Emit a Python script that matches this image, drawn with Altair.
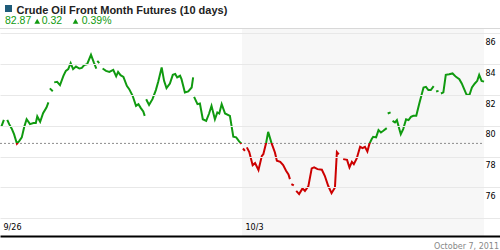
import altair as alt
import pandas as pd

# ---------------- data ----------------
TITLE = "Crude Oil Front Month Futures (10 days)"
LAST_PRICE = "82.87"
CHANGE = "0.32"
CHANGE_PCT = "0.39%"
DATE_TEXT = "October 7, 2011"
REF_PRICE = 78.86

X_TICKS = [0, 5]
X_LABELS = ["9/26", "10/3"]
Y_TICKS = [74, 76, 78, 80, 82, 84, 86]
SHADE_START = [5]
SHADE_END = [10]

# trading days since 9/26 open; None marks a break between sessions
T = [0.03, 0.08, None,
     0.15, 0.19, 0.24, 0.29, 0.35, 0.40, 0.45, 0.50, 0.55, 0.62, 0.69, 0.74, 0.77, 0.83, 0.89, 0.96, 1.00, None,
     1.03, 1.09, None,
     1.12, 1.18, 1.24, 1.31, 1.36, 1.41, 1.46, 1.51, 1.57, 1.64, 1.69, 1.74, 1.80, 1.88, 1.94, 1.99, None,
     2.01, 2.05, None,
     2.12, 2.19, 2.26, 2.34, 2.40, 2.44, 2.49, 2.55, 2.62, 2.67, 2.74, 2.81, 2.86, 2.91, 2.96, 2.99, None,
     3.02, 3.08, 3.15, 3.22, 3.27, 3.34, 3.39, 3.44, 3.51, 3.57, 3.62, 3.66, 3.72, 3.75, 3.82, 3.89, 3.96, 3.99, None,
     4.01, 4.08, 4.13, 4.19, 4.26, 4.32, 4.37, 4.44, 4.49, 4.53, 4.58, 4.65, 4.75, 4.82, 4.88, 4.94, 4.99, None,
     5.02, 5.06, None,
     5.10, 5.15, 5.22, 5.27, 5.34, 5.41, 5.44, 5.50, 5.54, 5.61, 5.68, 5.72, 5.79, 5.85, 5.91, 5.96, 5.99, None,
     6.02, 6.07, None,
     6.12, 6.18, 6.25, 6.30, 6.37, 6.44, 6.49, 6.56, 6.65, 6.71, 6.78, 6.85, 6.92, 6.96, 7.00, None,
     7.09, 7.17, 7.22, 7.27, 7.31, 7.37, 7.44, 7.49, 7.54, 7.59, 7.63, 7.68, 7.71, 7.77, 7.82, 7.87, 7.92, 7.99, None,
     8.01, 8.07, None,
     8.11, 8.16, 8.20, 8.25, 8.28, 8.33, 8.39, 8.44, 8.49, 8.54, 8.60, 8.66, 8.75, 8.80, 8.85, 8.90, 8.96, None,
     9.01, 9.06, None,
     9.11, 9.16, 9.21, 9.28, 9.35, 9.42, 9.49, 9.54, 9.59, 9.64, 9.70, 9.75, 9.81, 9.86, 9.90, 9.95, 10.00]

P = [79.96, 80.39, None,
     80.39, 80.11, 79.83, 79.46, 78.84, 79.03, 79.25, 79.92, 80.43, 80.11, 80.18, 80.18, 80.61, 80.26, 80.82, 81.19, 81.52, None,
     82.43, 82.25, None,
     82.82, 82.86, 82.64, 83.24, 83.57, 83.68, 84.07, 83.68, 83.85, 83.72, 83.76, 83.94, 84.00, 84.61, 84.11, 83.72, None,
     84.22, 84.07, None,
     83.72, 83.57, 83.50, 83.63, 83.21, 83.50, 83.29, 83.18, 82.60, 82.38, 81.95, 81.30, 81.41, 81.15, 80.93, 80.65, None,
     81.73, 81.36, 81.73, 82.32, 82.88, 83.79, 82.92, 82.45, 82.75, 83.31, 83.36, 83.14, 83.25, 83.03, 82.17, 82.23, 82.49, 83.14, None,
     81.88, 81.41, 81.45, 80.43, 80.32, 80.80, 81.30, 80.43, 80.87, 80.80, 81.41, 80.80, 80.65, 79.29, 79.25, 78.99, 78.84, None,
     78.53, 78.38, None,
     78.60, 78.30, 77.45, 77.58, 77.13, 78.05, 78.16, 78.92, 79.61, 78.88, 78.27, 77.73, 77.66, 77.45, 77.08, 76.85, 76.54, None,
     76.22, 76.13, None,
     75.78, 75.57, 75.94, 75.78, 76.07, 77.24, 77.30, 77.19, 77.15, 76.76, 76.11, 75.63, 76.00, 78.30, 78.15, None,
     77.84, 77.79, 77.30, 77.66, 77.51, 77.88, 78.64, 78.55, 78.64, 78.34, 78.81, 79.14, 79.29, 79.25, 79.72, 79.57, 79.68, 79.85, None,
     80.80, 80.87, None,
     80.32, 80.22, 80.37, 79.79, 79.46, 79.79, 80.43, 80.37, 80.58, 80.65, 80.65, 81.41, 82.49, 82.53, 82.32, 82.32, 82.58, None,
     82.23, 82.27, None,
     82.10, 82.17, 83.31, 83.35, 83.40, 83.18, 83.03, 82.75, 82.38, 82.01, 82.01, 82.49, 82.75, 82.92, 83.31, 82.92, 82.87]

# ---------------- style ----------------
GREEN = "#109a10"
RED = "#cc0000"
W, H = 500, 208
XDOM = [0, 10.33]
YDOM = [72.85, 86.35]
FONT = "Liberation Sans"
AXFONT = "DejaVu Sans"

df = pd.DataFrame({"t": T, "p": P, "i": list(range(len(T)))}).astype(float)
vals = [v for v in P if v is not None]
split = (max(vals) - REF_PRICE) / (max(vals) - min(vals))

label_expr = "''"
for v, l in reversed(list(zip(X_TICKS, X_LABELS))):
    label_expr = f"datum.value == {v} ? '{l}' : {label_expr}"

xscale = alt.Scale(domain=XDOM, nice=False, zero=False)
yscale = alt.Scale(domain=YDOM, nice=False, zero=False)

XAX = alt.Axis(
    values=X_TICKS, labelExpr=label_expr, grid=False,
    domain=True, domainColor="#000000", domainWidth=2,
    ticks=False, tickSize=0, labelAlign="left", labelBaseline="alphabetic",
    labelPadding=-7, labelOffset=3, labelFontSize=8, labelFont=AXFONT,
    labelColor="#000000", labelFlush=False, labelOverlap=False, title=None, zindex=1)
YAX = alt.Axis(
    orient="right", values=Y_TICKS,
    labelExpr="datum.value < 75 ? '' : datum.label",
    grid=True, gridColor="#e8e8e8", gridWidth=1, domain=False,
    ticks=False, tickSize=0, labelAlign="left", labelBaseline="alphabetic",
    labelPadding=-15, labelOffset=11, labelFontSize=8, labelFont=AXFONT,
    labelColor="#000000", title=None, zindex=1)

shade = alt.Chart(pd.DataFrame({"t": SHADE_START, "b": SHADE_END})).mark_rect(
    color="#f7f7f7"
).encode(
    x=alt.X("t:Q", scale=xscale, axis=XAX),
    x2="b:Q",
    y=alt.value(0),
    y2=alt.value(H),
)

top_rule = alt.Chart(pd.DataFrame({"k": [0]})).mark_rule(color="#d8d8d8", strokeWidth=1).encode(
    x=alt.value(0), x2=alt.value(W), y=alt.value(0.5)
)

ref = alt.Chart(pd.DataFrame({"t": [X_TICKS[0]], "b": SHADE_END, "p": [REF_PRICE]})).mark_rule(
    color="#8c8c8c", strokeWidth=1, strokeDash=[2, 2]
).encode(
    x=alt.X("t:Q", scale=xscale, axis=XAX),
    x2="b:Q",
    y=alt.Y("p:Q", scale=yscale, axis=YAX),
)

line = alt.Chart(df).mark_line(
    strokeWidth=2,
    invalid="break-paths-show-domains",
    color=alt.Gradient(
        gradient="linear",
        x1=0, x2=0, y1=0, y2=1,
        stops=[
            alt.GradientStop(color=GREEN, offset=0),
            alt.GradientStop(color=GREEN, offset=split),
            alt.GradientStop(color=RED, offset=split),
            alt.GradientStop(color=RED, offset=1),
        ],
    ),
).encode(
    x=alt.X("t:Q", scale=xscale, axis=XAX),
    y=alt.Y("p:Q", scale=yscale, axis=YAX),
    order="i:Q",
)

one = pd.DataFrame({"k": [0]})

square = alt.Chart(one).mark_rect(color="#1f5c7a").encode(
    x=alt.value(5), x2=alt.value(12), y=alt.value(-23), y2=alt.value(-16)
)
title = alt.Chart(pd.DataFrame({"s": [TITLE]})).mark_text(
    align="left", baseline="alphabetic", font=FONT, fontSize=11, fontWeight="bold", color="#222222"
).encode(text="s:N", x=alt.value(16.5), y=alt.value(-14.5))

def green_text(s, xpos):
    return alt.Chart(pd.DataFrame({"s": [s]})).mark_text(
        align="left", baseline="alphabetic", font=FONT, fontSize=10.5, color=GREEN
    ).encode(text="s:N", x=alt.value(xpos), y=alt.value(-4))

def tri(xpos):
    return alt.Chart(one).mark_point(
        shape="triangle-up", filled=True, size=32, color=GREEN, opacity=1
    ).encode(x=alt.value(xpos), y=alt.value(-6.8))

date = alt.Chart(pd.DataFrame({"s": [DATE_TEXT]})).mark_text(
    align="right", baseline="alphabetic", font=AXFONT, fontSize=8, color="#888888"
).encode(text="s:N", x=alt.value(499), y=alt.value(221))

chart = alt.layer(
    shade, top_rule, ref, line, square, title,
    green_text(LAST_PRICE, 5), tri(37.2), green_text(CHANGE, 41.7),
    tri(75.5), green_text(CHANGE_PCT, 81.7), date,
).properties(
    width=W, height=H,
    padding={"top": 28, "left": 0, "right": 0, "bottom": 14},
    autosize=alt.AutoSizeParams(type="none"),
    background="#ffffff",
).configure_view(strokeWidth=0)

chart.save("out.html", embed_options={"renderer": "svg", "actions": False})
